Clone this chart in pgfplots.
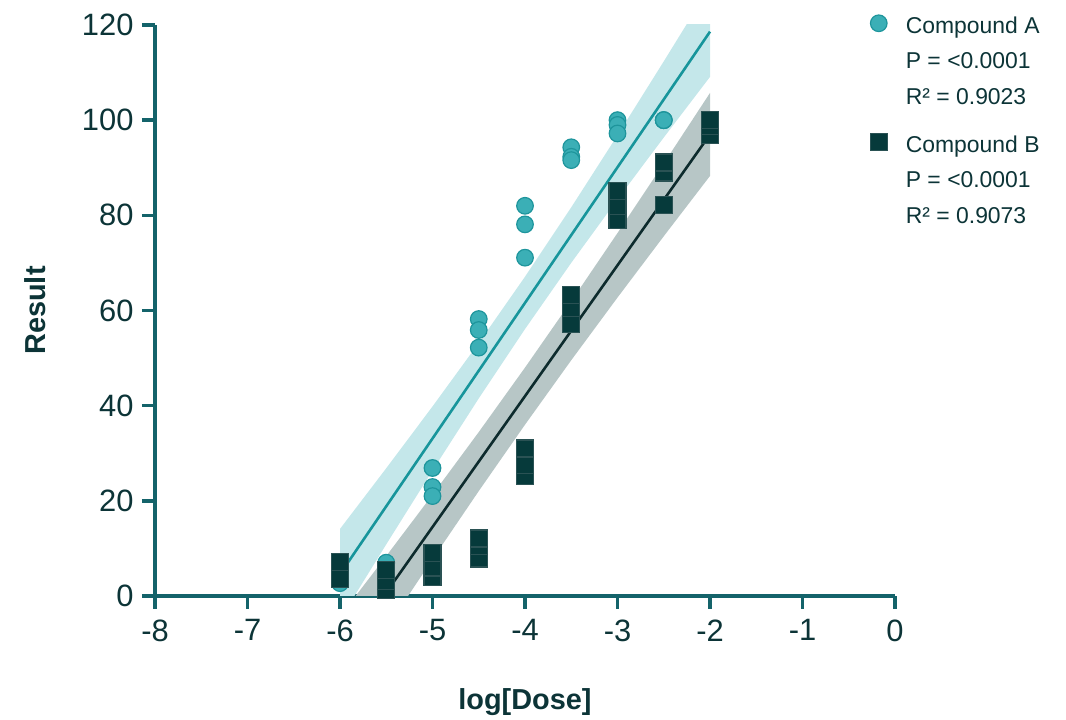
\documentclass[border=0pt]{standalone}
\usepackage{pgfplots}
\pgfplotsset{compat=1.18}
\usepackage{fontspec}
\setmainfont{Liberation Sans}
\definecolor{axiscol}{HTML}{14636A}
\definecolor{textcol}{HTML}{0C3437}
\definecolor{bandA}{HTML}{C4E7EA}
\definecolor{lineA}{HTML}{17959B}
\definecolor{fillA}{HTML}{3BAFB6}
\definecolor{edgeA}{HTML}{1E959C}
\definecolor{bandB}{HTML}{B7C6C6}
\definecolor{lineB}{HTML}{0D2B2D}
\definecolor{fillB}{HTML}{063A3B}
\definecolor{edgeB}{HTML}{2A5254}
\newcommand\lstrut{\rule[-6bp]{0pt}{24bp}}
\begin{document}
\begin{tikzpicture}[x=1bp,y=1bp]
\path (-155,-124) rectangle (911,596);
\begin{axis}[
  at={(0,0)}, anchor=south west,
  width=740bp, height=571bp, scale only axis,
  xmin=-8, xmax=0, ymin=0, ymax=120,
  xtick={-8,-7,-6,-5,-4,-3,-2,-1,0},
  ytick={0,20,40,60,80,100,120},
  axis x line=bottom, axis y line=left,
  axis line style={-, line width=3.6bp, color=axiscol},
  tick style={line width=3.6bp, color=axiscol},
  major tick length=13bp, tick align=outside,
  /pgf/number format/assume math mode=true,
  tick label style={font=\fontsize{31}{31}\selectfont, text=textcol},
  xticklabel style={yshift=-7bp},
  yticklabel style={xshift=-5bp},
  xlabel={log[Dose]}, ylabel={Result},
  xlabel style={at={(axis description cs:0.5,0)}, anchor=center, yshift=-106bp, font=\bfseries\fontsize{29}{29}\selectfont, text=textcol},
  ylabel style={at={(axis description cs:0,0.5)}, anchor=center, yshift=120bp, font=\bfseries\fontsize{29}{29}\selectfont, text=textcol},
  clip=true,
  legend image code/.code={\pgfpathrectangle{\pgfpoint{0bp}{-8.9bp}}{\pgfpoint{17bp}{17.8bp}}\pgfusepath{use as bounding box}%
    \begin{pgfinterruptboundingbox}\draw[#1] plot coordinates {(8.5bp,-11bp)};\end{pgfinterruptboundingbox}},
  legend style={at={(rel axis cs:0.9663,1.0382)}, anchor=north west, draw=none, fill=none,
    font=\fontsize{23}{35.5}\selectfont, text=textcol, inner sep=0pt,
    nodes={inner sep=3bp, align=left}, column sep=15.6bp, row sep=13.5bp,
    cells={anchor=north west}},
]
% confidence bands
\addplot[fill=bandA, draw=none, forget plot] coordinates {
 (-6,14.1) (-5.5,26.85) (-5,39.83) (-4.5,53.18) (-4,67.1) (-3.5,81.68) (-3,96.83) (-2.5,112.35) (-2,128.1)
 (-2,109.1) (-2.5,96.35) (-3,83.37) (-3.5,70.02) (-4,56.1) (-4.5,41.52) (-5,26.37) (-5.5,10.85) (-6,-4.9)
} -- cycle;
\addplot[fill=bandB, draw=none, forget plot] coordinates {
 (-6,-4.28) (-5.5,8.4) (-5,21.28) (-4.5,34.45) (-4,48) (-3.5,61.95) (-3,76.28) (-2.5,90.9) (-2,105.72)
 (-2,88.28) (-2.5,75.6) (-3,62.72) (-3.5,49.55) (-4,36) (-4.5,22.05) (-5,7.72) (-5.5,-6.9) (-6,-21.72)
} -- cycle;
% regression lines
\addplot[lineA, line width=2.6bp, forget plot] coordinates {(-6,4.6) (-2,118.6)};
\addplot[lineB, line width=2.6bp, forget plot] coordinates {(-6,-13) (-2,97)};
% Compound A
\addplot[only marks, mark=*, mark size=8.3bp, mark options={fill=fillA, draw=edgeA, line width=1.2bp}] coordinates {
 (-6,5) (-6,6) (-6,2.7)
 (-5.5,7.0) (-5.5,4) (-5.5,3)
 (-5,26.9) (-5,22.9) (-5,21.0)
 (-4.5,58.2) (-4.5,55.9) (-4.5,52.2)
 (-4,82.0) (-4,78.1) (-4,71.1)
 (-3.5,94.3) (-3.5,92.3) (-3.5,91.6)
 (-3,100) (-3,99) (-3,97.2)
 (-2.5,100) (-2.5,100) (-2.5,100)
};
\addlegendentry{Compound A\lstrut\\P = <0.0001\\R² = 0.9023\lstrut}
% Compound B
\addplot[only marks, mark=square*, mark size=8.5bp, mark options={fill=fillB, draw=edgeB, line width=1.2bp}] coordinates {
 (-6,3.6) (-6,3.6) (-6,7.2)
 (-5.5,1.2) (-5.5,3.2) (-5.5,5.4)
 (-5,4.0) (-5,6.0) (-5,9.1)
 (-4.5,7.9) (-4.5,10.5) (-4.5,12.1)
 (-4,25.2) (-4,27.6) (-4,31.0)
 (-3.5,57.1) (-3.5,60.6) (-3.5,63.2)
 (-3,79.1) (-3,81.9) (-3,85.1)
 (-2.5,82.1) (-2.5,89.0) (-2.5,91.1)
 (-2,96.9) (-2,98.7) (-2,100.1)
};
\addlegendentry{Compound B\lstrut\\P = <0.0001\\R² = 0.9073\lstrut}
\end{axis}
\end{tikzpicture}
\end{document}
